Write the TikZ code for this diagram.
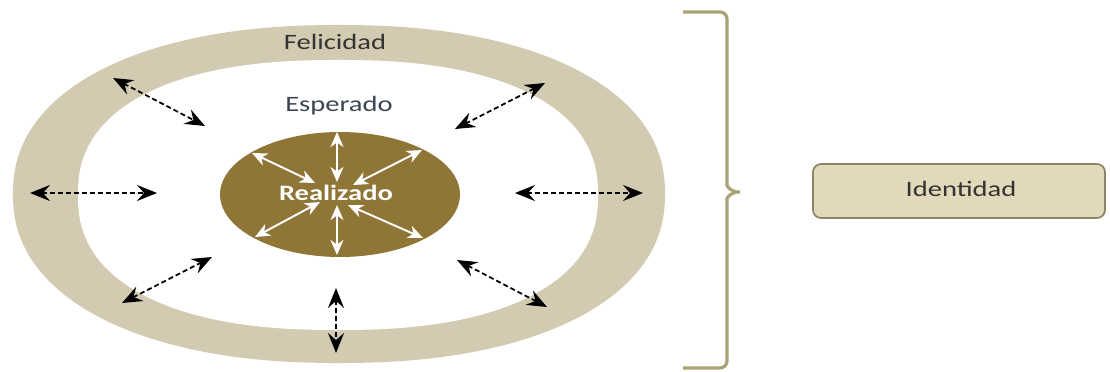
\documentclass[tikz,border=0pt]{standalone}
\usepackage{fontspec}
\newfontfamily\diagfont[FakeStretch=1.3]{Carlito}
\usetikzlibrary{arrows.meta,shapes.geometric}
\definecolor{ringcol}{HTML}{D3CBB1}
\definecolor{goldcol}{HTML}{8F7536}
\definecolor{bracecol}{HTML}{A9A273}
\definecolor{boxfill}{HTML}{E2D8BA}
\definecolor{boxline}{HTML}{8C8466}
\definecolor{slatecol}{HTML}{3A4652}
\begin{document}
\begin{tikzpicture}[x=0.02cm,y=-0.02cm,
    txt/.style={font=\diagfont\fontsize{12.5}{14}\selectfont,anchor=base,inner sep=0pt},
    blackarr/.style={{Stealth[length=0.4cm,width=0.32cm,inset=0.14cm]}-{Stealth[length=0.4cm,width=0.32cm,inset=0.14cm]},
        line width=1pt,dash pattern=on 0.1cm off 0.06cm},
    whitearr/.style={{Stealth[length=0.3cm,width=0.26cm,inset=0.09cm]}-{Stealth[length=0.3cm,width=0.26cm,inset=0.09cm]},
        line width=1.1pt,white}]
\useasboundingbox (0,0) rectangle (1110,372);
% ring
\fill[ringcol] plot[variable=\t,domain=1:361,samples=181]
  ({339+326*sign(cos(\t))*abs(cos(\t))^0.9},{194+169*sign(sin(\t))*abs(sin(\t))^0.9}) -- cycle;
\fill[white] plot[variable=\t,domain=1:361,samples=181]
  ({338+260*sign(cos(\t))*abs(cos(\t))^0.85},{195+135*sign(sin(\t))*abs(sin(\t))^0.85}) -- cycle;
\node[txt,text=black!80] (felicidad) at (335,50) {Felicidad};
\node[txt,text=slatecol] (esperado) at (339,111) {Esperado};
% core
\node[ellipse,fill=goldcol,minimum width=4.8cm,minimum height=2.5cm,inner sep=0pt] (core) at (340,194.5) {};
\node[txt,text=white,font=\diagfont\fontsize{12.5}{14}\selectfont\bfseries] (realizado) at (336,200) {Realizado};
% black arrows
\coordinate (l1) at (30,193);   \coordinate (l2) at (157,193);
\coordinate (r1) at (515,193);  \coordinate (r2) at (643,193);
\coordinate (ul1) at (113,78);  \coordinate (ul2) at (205,126);
\coordinate (ur1) at (545,83);  \coordinate (ur2) at (455,129);
\coordinate (ll1) at (122,303); \coordinate (ll2) at (212,257);
\coordinate (lr1) at (457,260); \coordinate (lr2) at (547,307);
\coordinate (b1) at (336,288);  \coordinate (b2) at (336,353);
\foreach \a/\b in {l1/l2,r1/r2,ul1/ul2,ur1/ur2,ll1/ll2,lr1/lr2,b1/b2}
  \draw[blackarr] (\a)--(\b);
% white arrows
\coordinate (wt1) at (337,132);  \coordinate (wt2) at (337,182);
\coordinate (wb1) at (337,205);  \coordinate (wb2) at (337,255);
\coordinate (wul1) at (252,153); \coordinate (wul2) at (315,183);
\coordinate (wur1) at (422,150); \coordinate (wur2) at (353,185);
\coordinate (wll1) at (255,237); \coordinate (wll2) at (320,202);
\coordinate (wlr1) at (423,238); \coordinate (wlr2) at (348,205);
\foreach \a/\b in {wt1/wt2,wb1/wb2,wul1/wul2,wur1/wur2,wll1/wll2,wlr1/wlr2}
  \draw[whitearr] (\a)--(\b);
% brace
\draw[bracecol,line width=1.8pt,rounded corners=0.14cm]
  (683,12)--(727,12)--(727,178)
  .. controls (727,188) and (734,192) .. (744,192)
  .. controls (734,192) and (727,196) .. (727,206)
  --(727,368)--(683,368);
% box
\node[draw=boxline,fill=boxfill,line width=1pt,rounded corners=0.16cm,
      minimum width=5.84cm,minimum height=1.08cm] (idbox) at (959,191) {};
\node[txt,text=black!80] (identidad) at (961,196) {Identidad};
\end{tikzpicture}
\end{document}
